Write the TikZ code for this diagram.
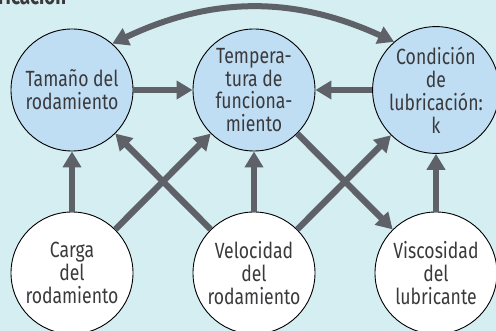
\documentclass[tikz,border=0pt]{standalone}
\usepackage{fontspec}
\setmainfont{Fira Sans}[FakeStretch=0.8]
\usetikzlibrary{arrows.meta}
\definecolor{bgc}{HTML}{D5EEF2}
\definecolor{circc}{HTML}{BFDDF3}
\definecolor{arrc}{HTML}{5E6167}
\definecolor{txtc}{HTML}{3A3A3C}
\tikzset{
  bubble/.style={circle, draw=black, line width=0.9pt, minimum size=122pt, inner sep=0pt,
    align=center, text=txtc, font=\fontsize{22}{22.8}\selectfont},
  bluebubble/.style={bubble, fill=circc},
  whitebubble/.style={bubble, fill=white},
  arr/.style={draw=arrc, line width=6.3pt, -{Triangle[length=16pt,width=18pt]}},
  arrtwo/.style={draw=arrc, line width=6pt, {Triangle[length=16pt,width=18pt]}-{Triangle[length=16pt,width=18pt]}},
  titletext/.style={anchor=base west, inner sep=0pt, text=txtc, font=\bfseries\fontsize{23.5}{23.5}\selectfont}
}
\begin{document}
\begin{tikzpicture}[x=1pt,y=-1pt]
\useasboundingbox (0,0) rectangle (496,331);
\clip (0,0) rectangle (496,331);
\fill[bgc] (0,0) rectangle (496,331);
\node[titletext] (title) at (-2,4.8) {ricación};
\node[bluebubble] (tam) at (72,90) {Tamaño del\\rodamiento};
\node[bluebubble] (tem) at (254,90) {Tempera-\\tura de\\funciona-\\miento};
\node[bluebubble] (con) at (436,90) {Condición\\de\\lubricación:\\k};
\node[whitebubble] (car) at (72,273) {Carga\\del\\rodamiento};
\node[whitebubble] (vel) at (254,273) {Velocidad\\del\\rodamiento};
\node[whitebubble] (vis) at (436,273) {Viscosidad\\del\\lubricante};
\draw[arr] (tam) -- (tem);
\draw[arr] (con) -- (tem);
\draw[arr] (car) -- (tam);
\draw[arr] (car) -- (tem);
\draw[arr] (vel) -- (tam);
\draw[arr] (vel) -- (tem);
\draw[arr] (vel) -- (con);
\draw[arr] (tem) -- (vis);
\draw[arr] (vis) -- (con);
\draw[arrtwo] (tam.49) to[bend left=25] (con.131);
\end{tikzpicture}
\end{document}
